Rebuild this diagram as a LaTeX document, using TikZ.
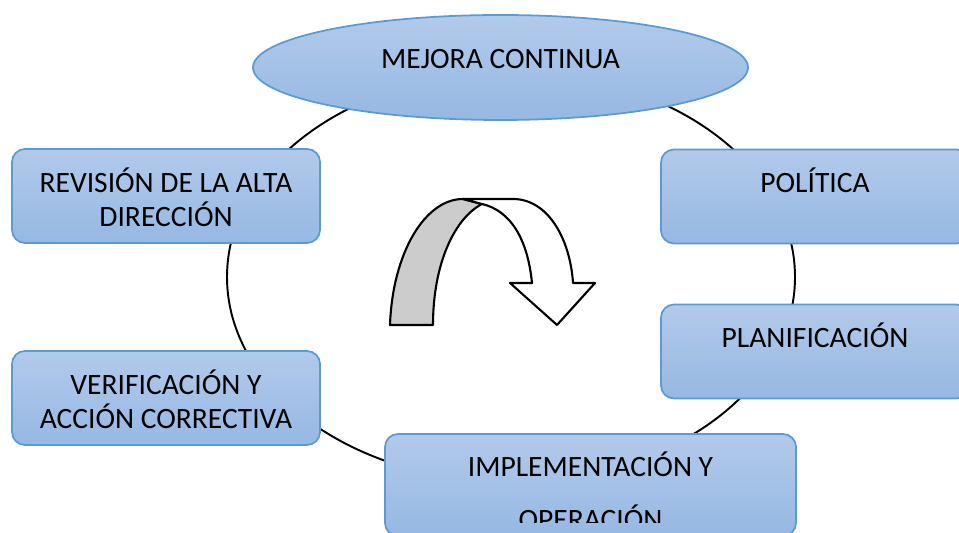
\documentclass[tikz,border=0pt]{standalone}
\usepackage{fontspec}
\setmainfont{Carlito}
\usepackage{tikz}
\usetikzlibrary{shapes.geometric}

\definecolor{boxtop}{RGB}{178,202,234}
\definecolor{boxbottom}{RGB}{150,184,227}
\definecolor{boxline}{RGB}{91,155,213}
\definecolor{backband}{RGB}{204,204,204}

\begin{document}
\begin{tikzpicture}[
    box/.style={rectangle, rounded corners=0.26cm, draw=boxline, line width=1pt, top color=boxtop, bottom color=boxbottom, minimum width=6.16cm, minimum height=1.88cm, inner sep=0pt, align=center, font=\fontsize{16.8}{19.9}\selectfont},
    oval/.style={ellipse, draw=boxline, line width=1pt, top color=boxtop, bottom color=boxbottom, minimum width=9.90cm, minimum height=2.10cm, inner sep=0pt, font=\fontsize{16.8}{19.9}\selectfont},
    oneline/.style={text height=0.36cm, text depth=#1},
    twoline/.style={text height=1.24cm, text depth=0cm},
    ring/.style={line width=1.1pt},
    band/.style={draw=black, line width=1.2pt, line join=round}
]
    \clip (0,0) rectangle (19.18,10.66);
    \draw[ring] (10.22,5.12) ellipse [x radius=5.68cm, y radius=4.10cm];

    % curved arrow in the middle
    \filldraw[band, fill=backband] (7.80,4.16) .. controls (7.85,5.60) and (8.50,6.68) .. (9.26,6.68)
        -- (9.64,6.58) .. controls (9.10,6.30) and (8.66,5.40) .. (8.66,4.16) -- cycle;
    \filldraw[band, fill=white] (9.26,6.68) -- (10.26,6.68) .. controls (10.95,6.68) and (11.40,5.90) .. (11.46,5.00)
        -- (11.90,5.00) -- (11.14,4.16) -- (10.20,5.00) -- (10.64,5.00)
        .. controls (10.55,5.90) and (10.20,6.45) .. (9.64,6.58) -- cycle;

    \node[oval, oneline=0.30cm] (mejora) at (10.01, 9.31) {MEJORA CONTINUA};
    \node[box, twoline] (revision) at (3.32, 6.74) {REVISIÓN DE LA ALTA\\DIRECCIÓN};
    \node[box, twoline] (verificacion) at (3.32, 2.70) {VERIFICACIÓN Y\\ACCIÓN CORRECTIVA};
    \node[box, oneline=0.52cm] (politica) at (16.30, 6.73) {POLÍTICA};
    \node[box, oneline=0.52cm] (planificacion) at (16.30, 3.63) {PLANIFICACIÓN};
    \node[box, minimum width=8.22cm, minimum height=2.04cm] (implementacion) at (11.81, 0.96) {};
    \begin{scope}
        \clip (7.70,0.20) rectangle (15.92,1.98);
        \node[align=center, inner sep=0pt, font=\fontsize{16.8}{19.9}\selectfont, text height=1.80cm, text depth=0cm] (implementaciontext) at (implementacion) {IMPLEMENTACIÓN Y\\[0.38cm]OPERACIÓN};
    \end{scope}
\end{tikzpicture}
\end{document}
